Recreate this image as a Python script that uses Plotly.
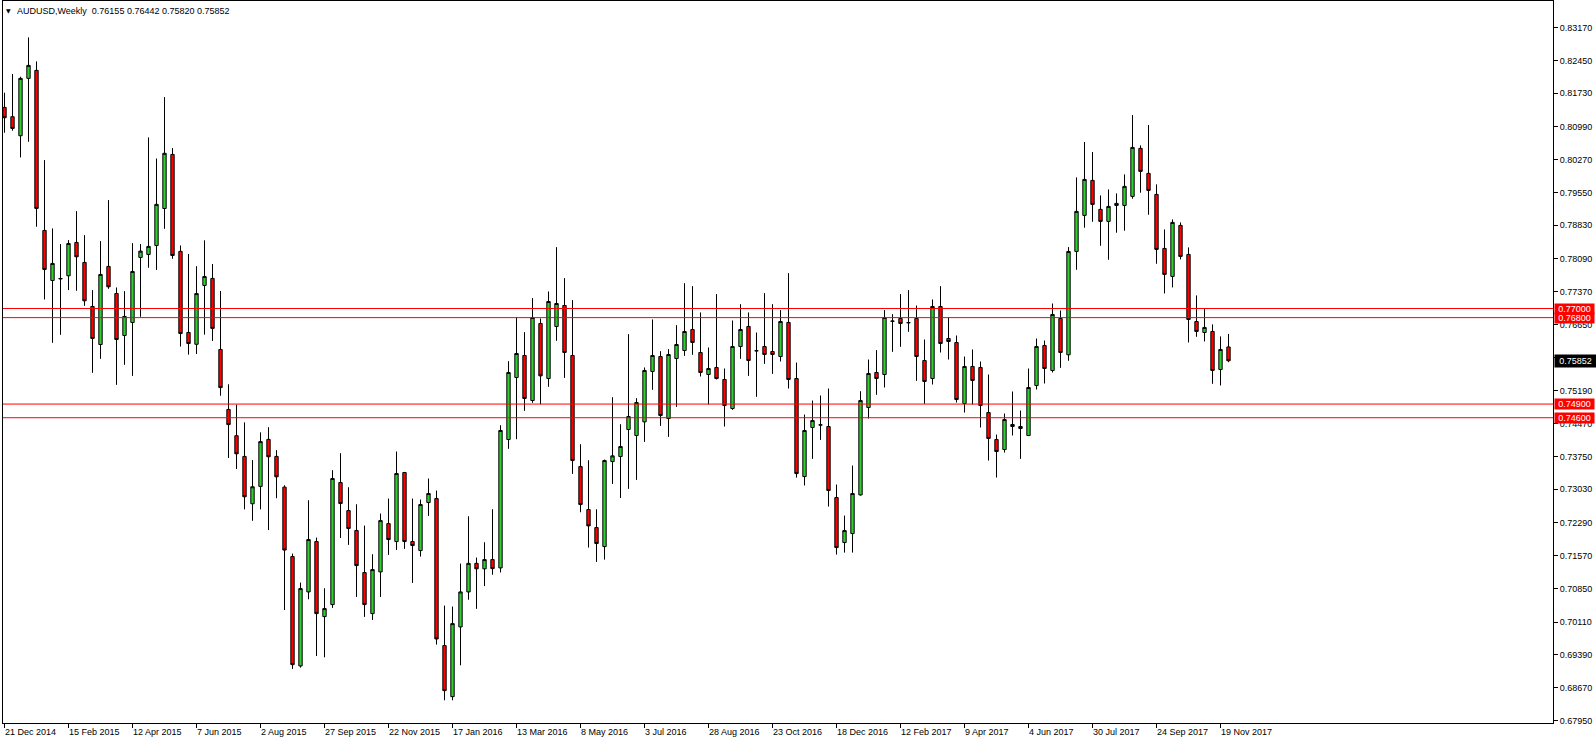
import plotly.graph_objects as go

# ---- data (AUDUSD weekly, week starting 21 Dec 2014) ----
opens = [0.81419, 0.81214, 0.80796, 0.82057, 0.82233, 0.78715, 0.77616, 0.77650, 0.77719, 0.78451,
         0.78012, 0.77045, 0.76209, 0.77924, 0.77330, 0.76407, 0.76693, 0.78122, 0.78188, 0.78385,
         0.79198, 0.80385, 0.78255, 0.76474, 0.76214, 0.77507, 0.77661, 0.76100, 0.74782, 0.74205,
         0.73750, 0.72709, 0.73091, 0.74124, 0.73750, 0.73075, 0.71549, 0.69146, 0.70772, 0.71879,
         0.70230, 0.70494, 0.73176, 0.72560, 0.72121, 0.71197, 0.70296, 0.71212, 0.72274, 0.71879,
         0.73396, 0.71879, 0.71681, 0.72736, 0.72824, 0.69593, 0.68471, 0.70003, 0.70772, 0.71400,
         0.71280, 0.71483, 0.71300, 0.74121, 0.75484, 0.75967, 0.74978, 0.76671, 0.75462, 0.76605,
         0.77066, 0.75967, 0.73527, 0.72582, 0.72186, 0.71769, 0.73637, 0.73747, 0.74341, 0.74209,
         0.74509, 0.75616, 0.75945, 0.74582, 0.75901, 0.76077, 0.76539, 0.76033, 0.75550, 0.75704,
         0.75440, 0.74802, 0.76165, 0.76605, 0.76070, 0.76165, 0.76055, 0.75945, 0.76693, 0.75462,
         0.73307, 0.74385, 0.74443, 0.74407, 0.72846, 0.71857, 0.72054, 0.72904, 0.74824, 0.75594,
         0.75550, 0.76724, 0.76781, 0.76686, 0.76781, 0.75857, 0.75462, 0.77044, 0.76341, 0.76253,
         0.74912, 0.75726, 0.75704, 0.74714, 0.74121, 0.73901, 0.74407, 0.74363, 0.74209, 0.75308,
         0.76188, 0.75638, 0.76781, 0.75983, 0.78254, 0.79046, 0.79815, 0.79178, 0.78914, 0.79265,
         0.79265, 0.79463, 0.80519, 0.79969, 0.79507, 0.78320, 0.77705, 0.78826, 0.78188, 0.76715,
         0.76474, 0.76496, 0.75660, 0.76155]
highs = [0.81742, 0.82152, 0.82093, 0.82958, 0.82430, 0.80261, 0.78759, 0.78415, 0.78503, 0.79140,
         0.78613, 0.77404, 0.78481, 0.79382, 0.77462, 0.77382, 0.78437, 0.78415, 0.80760, 0.80296,
         0.81646, 0.80524, 0.78385, 0.78198, 0.77930, 0.78499, 0.77978, 0.77385, 0.75335, 0.74888,
         0.74498, 0.73668, 0.74278, 0.74392, 0.73888, 0.73115, 0.71615, 0.70977, 0.72787, 0.71967,
         0.70853, 0.73447, 0.73821, 0.73073, 0.72699, 0.72230, 0.71600, 0.72494, 0.72824, 0.73857,
         0.73410, 0.72824, 0.72802, 0.73264, 0.73000, 0.70472, 0.70450, 0.71395, 0.72435, 0.71527,
         0.71864, 0.72590, 0.74436, 0.75843, 0.76810, 0.76480, 0.77228, 0.76781, 0.77374, 0.78349,
         0.77667, 0.77184, 0.74018, 0.73666, 0.72589, 0.73681, 0.75051, 0.74458, 0.76436, 0.75029,
         0.75704, 0.76759, 0.76063, 0.76107, 0.76634, 0.77557, 0.77491, 0.76913, 0.76143, 0.77316,
         0.75682, 0.76737, 0.77096, 0.76913, 0.76473, 0.77338, 0.77096, 0.76964, 0.77777, 0.75813,
         0.74670, 0.74978, 0.75088, 0.75242, 0.73132, 0.72450, 0.73549, 0.75183, 0.75879, 0.76085,
         0.76964, 0.76876, 0.77316, 0.77404, 0.77066, 0.76319, 0.77198, 0.77491, 0.76803, 0.76407,
         0.75945, 0.76099, 0.75835, 0.75550, 0.74231, 0.74692, 0.75176, 0.74758, 0.75682, 0.76341,
         0.76297, 0.77110, 0.76957, 0.78350, 0.79881, 0.80658, 0.80438, 0.79485, 0.79617, 0.79529,
         0.79947, 0.81251, 0.80584, 0.81031, 0.79727, 0.78738, 0.78958, 0.78892, 0.78342, 0.77287,
         0.77001, 0.76650, 0.76386, 0.76442]
lows = [0.80862, 0.80906, 0.80320, 0.80664, 0.78796, 0.77198, 0.76246, 0.76422, 0.77404, 0.77389,
        0.77059, 0.75586, 0.75894, 0.77433, 0.75322, 0.75762, 0.75520, 0.76818, 0.77895, 0.77848,
        0.78751, 0.78092, 0.76165, 0.75986, 0.76002, 0.76425, 0.76287, 0.75083, 0.73717, 0.73473,
        0.72587, 0.72335, 0.72587, 0.72131, 0.72831, 0.70375, 0.69080, 0.69109, 0.70611, 0.69365,
        0.69336, 0.70421, 0.71959, 0.71805, 0.70662, 0.70223, 0.70157, 0.70662, 0.71586, 0.71695,
        0.71718, 0.70970, 0.71549, 0.72443, 0.69615, 0.68391, 0.68391, 0.69160, 0.70600, 0.70400,
        0.70900, 0.71150, 0.71200, 0.73916, 0.74128, 0.74751, 0.74927, 0.74897, 0.75279, 0.76290,
        0.75476, 0.73366, 0.72523, 0.71747, 0.71432, 0.71483, 0.73146, 0.72838, 0.73036, 0.73234,
        0.74069, 0.75213, 0.74421, 0.74179, 0.74839, 0.75960, 0.75982, 0.75506, 0.74890, 0.75440,
        0.74407, 0.74773, 0.75894, 0.75520, 0.75059, 0.75784, 0.75564, 0.75835, 0.75242, 0.73285,
        0.73110, 0.73696, 0.74113, 0.72648, 0.71593, 0.71637, 0.71637, 0.72890, 0.74582, 0.75103,
        0.75264, 0.76048, 0.76158, 0.76488, 0.75410, 0.74905, 0.75330, 0.76033, 0.75879, 0.74934,
        0.74714, 0.74890, 0.74385, 0.73659, 0.73285, 0.73835, 0.74209, 0.73696, 0.74200, 0.75220,
        0.75352, 0.75594, 0.75696, 0.75851, 0.77851, 0.78775, 0.78906, 0.78379, 0.78071, 0.78665,
        0.78709, 0.79412, 0.79544, 0.79060, 0.77983, 0.77331, 0.77463, 0.78078, 0.76254, 0.76378,
        0.76276, 0.75345, 0.75309, 0.75820]
closes = [0.81192, 0.80957, 0.82057, 0.82342, 0.79199, 0.77858, 0.77990, 0.77658, 0.78429, 0.78136,
          0.77169, 0.76341, 0.77748, 0.77477, 0.76319, 0.76825, 0.77814, 0.78261, 0.78364, 0.79288,
          0.80410, 0.78165, 0.76450, 0.76230, 0.77328, 0.77702, 0.76563, 0.75262, 0.74449, 0.73807,
          0.72863, 0.73083, 0.74075, 0.73742, 0.73302, 0.71692, 0.69175, 0.70846, 0.71923, 0.70296,
          0.70406, 0.73264, 0.72714, 0.72165, 0.71351, 0.70494, 0.71263, 0.72340, 0.71923, 0.73374,
          0.71879, 0.71791, 0.72692, 0.72934, 0.69739, 0.68603, 0.70076, 0.70772, 0.71400, 0.71280,
          0.71483, 0.71285, 0.74319, 0.75594, 0.76011, 0.75022, 0.76803, 0.75520, 0.77154, 0.77110,
          0.76033, 0.73659, 0.72692, 0.72223, 0.71835, 0.73659, 0.73762, 0.73967, 0.74626, 0.74934,
          0.75638, 0.75967, 0.74648, 0.75989, 0.76209, 0.76495, 0.76253, 0.75594, 0.75682, 0.75462,
          0.74868, 0.76165, 0.76539, 0.75857, 0.76072, 0.75989, 0.75989, 0.76715, 0.75440, 0.73373,
          0.74319, 0.74538, 0.74440, 0.73000, 0.71747, 0.72120, 0.72934, 0.74978, 0.75572, 0.75462,
          0.76803, 0.76720, 0.76671, 0.76690, 0.75945, 0.75396, 0.77044, 0.76231, 0.76275, 0.75000,
          0.75726, 0.75418, 0.74868, 0.74143, 0.73857, 0.74560, 0.74451, 0.74407, 0.75264, 0.76165,
          0.75682, 0.76869, 0.76033, 0.78254, 0.79134, 0.79837, 0.79287, 0.78914, 0.79243, 0.79309,
          0.79683, 0.80540, 0.80013, 0.79595, 0.78298, 0.77749, 0.78892, 0.78144, 0.76759, 0.76496,
          0.76584, 0.75638, 0.76100, 0.75852]

date_labels = ["21 Dec 2014", "15 Feb 2015", "12 Apr 2015", "7 Jun 2015", "2 Aug 2015",
               "27 Sep 2015", "22 Nov 2015", "17 Jan 2016", "13 Mar 2016", "8 May 2016",
               "3 Jul 2016", "28 Aug 2016", "23 Oct 2016", "18 Dec 2016", "12 Feb 2017",
               "9 Apr 2017", "4 Jun 2017", "30 Jul 2017", "24 Sep 2017", "19 Nov 2017"]
weeks_per_label = 8

price_ticks = [0.83170, 0.82450, 0.81730, 0.80990, 0.80270, 0.79550, 0.78830, 0.78090,
               0.77370, 0.76650, 0.75920, 0.75190, 0.74470, 0.73750, 0.73030, 0.72290,
               0.71570, 0.70850, 0.70110, 0.69390, 0.68670, 0.67950]
levels = [0.77000, 0.76800, 0.74900, 0.74600]
last_price = 0.75852
title_text = "AUDUSD,Weekly  0.76155 0.76442 0.75820 0.75852"

# ---- figure ----
FONT = "Liberation Sans"
n = len(opens)
xs = list(range(n))

fig = go.Figure(go.Candlestick(
    x=xs, open=opens, high=highs, low=lows, close=closes,
    increasing=dict(fillcolor="#32CD32", line=dict(color="black", width=1)),
    decreasing=dict(fillcolor="#FF0000", line=dict(color="black", width=1)),
    whiskerwidth=0, hoverinfo="skip", showlegend=False,
))

label_idx = [k * weeks_per_label for k in range(len(date_labels))]

fig.update_layout(
    width=1596, height=744,
    margin=dict(l=3, r=43, t=1, b=21, pad=0, autoexpand=False),
    paper_bgcolor="white", plot_bgcolor="white",
    boxgap=0.4,
    showlegend=False,
    font=dict(family=FONT, size=9, color="black"),
    xaxis=dict(
        range=[-0.1875, 193.5625], showgrid=False, zeroline=False,
        showline=True, mirror=True, linecolor="black", linewidth=1,
        ticks="outside", tickvals=label_idx, ticklen=4, tickcolor="black",
        showticklabels=False, rangeslider=dict(visible=False), fixedrange=True,
    ),
    yaxis=dict(
        side="right", range=[0.67892, 0.83757], showgrid=False, zeroline=False,
        showline=True, mirror=True, linecolor="black", linewidth=1,
        ticks="outside", ticklen=4, tickcolor="black",
        tickvals=price_ticks, ticktext=[f"{v:.5f}" for v in price_ticks],
        tickfont=dict(family=FONT, size=9, color="black"), fixedrange=True,
    ),
)

for lv in levels:
    fig.add_shape(type="line", xref="paper", x0=0, x1=1, yref="y", y0=lv, y1=lv,
                  line=dict(color="#FF0000", width=1))

annotations = []
for idx, txt in zip(label_idx, date_labels):
    annotations.append(dict(x=idx, y=0, xref="x", yref="paper", text=txt, showarrow=False,
                            xanchor="left", yanchor="top", xshift=-2, yshift=-2,
                            font=dict(family=FONT, size=9, color="black")))
for lv in levels:
    annotations.append(dict(x=1, y=lv, xref="paper", yref="y", text=f"{lv:.5f}", showarrow=False,
                            xanchor="left", yanchor="middle", xshift=1, width=39, align="center",
                            bgcolor="#FF0000", borderpad=0,
                            font=dict(family=FONT, size=9, color="white")))
annotations.append(dict(x=1, y=last_price, xref="paper", yref="y", text=f"{last_price:.5f}",
                        showarrow=False, xanchor="left", yanchor="middle", xshift=1,
                        width=39, align="center",
                        bgcolor="black", borderpad=1,
                        font=dict(family=FONT, size=9, color="white")))
annotations.append(dict(x=0, y=1, xref="paper", yref="paper", text="▼", showarrow=False,
                        xanchor="left", yanchor="top", xshift=1, yshift=-4,
                        font=dict(family="DejaVu Sans", size=6, color="black")))
annotations.append(dict(x=0, y=1, xref="paper", yref="paper", text=title_text, showarrow=False,
                        xanchor="left", yanchor="top", xshift=12, yshift=-3,
                        font=dict(family=FONT, size=9, color="black")))
fig.update_layout(annotations=annotations)

fig.write_html("out.html", config={"displayModeBar": False},
               post_script="document.body.style.margin='0';document.body.style.overflow='hidden';")
